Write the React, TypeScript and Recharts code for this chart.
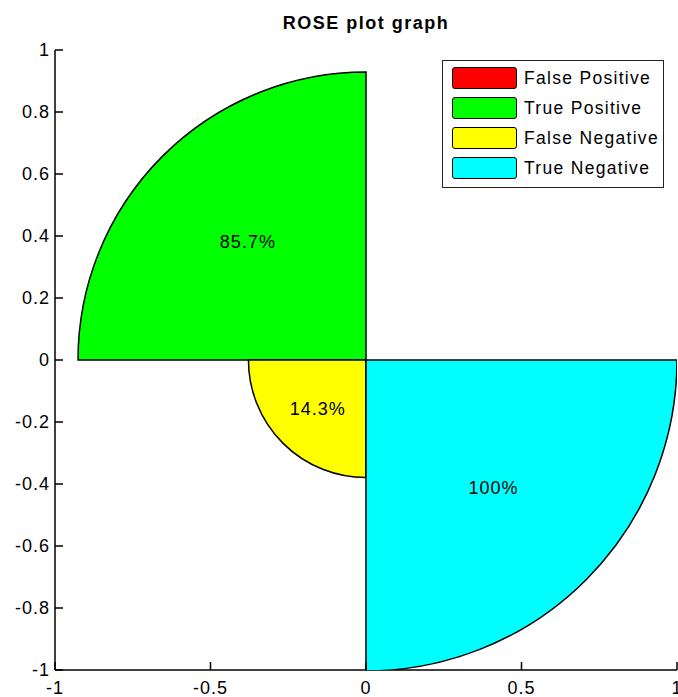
import React from 'react';
import { ScatterChart, Scatter, XAxis, YAxis, ZAxis, Sector, Legend } from 'recharts';

// ---- data ----
const categories = ['False Positive', 'True Positive', 'False Negative', 'True Negative'];
const percentValues = [0, 85.7, 14.3, 100];
const radii = [0, 0.926, 0.378, 1.0];
const startAngles = [0, 90, 180, 270];
const endAngles = [90, 180, 270, 360];
const colors = ['#ff0000', '#00ff00', '#ffff00', '#00ffff'];
const xTicks = [-1, -0.5, 0, 0.5, 1];
const yTicks = [-1, -0.8, -0.6, -0.4, -0.2, 0, 0.2, 0.4, 0.6, 0.8, 1];
const title = 'ROSE plot graph';

const FONT = '"Liberation Sans", Arial, Helvetica, sans-serif';
const PX_PER_UNIT = 311;

const series = categories.map((name, i) => ({
  name,
  color: colors[i],
  data: [
    {
      x: 0,
      y: 0,
      r: radii[i],
      area: radii[i] * radii[i],
      pct: percentValues[i],
      start: startAngles[i],
      end: endAngles[i],
      color: colors[i],
    },
  ],
}));

const Wedge = (props: any) => {
  const { cx, cy, payload, xAxis, width } = props;
  if (!payload || !(payload.r > 0)) return <g />;
  let pr = (width || 0) / 2;
  if (xAxis && typeof xAxis.scale === 'function') {
    const d = Math.abs(xAxis.scale(payload.r) - xAxis.scale(0));
    if (isFinite(d) && d > 0) pr = d;
  }
  const mid = (((payload.start + payload.end) / 2) * Math.PI) / 180;
  const lr = pr * 0.58;
  const lx = cx + lr * Math.cos(mid);
  const ly = cy - lr * Math.sin(mid);
  return (
    <g>
      <Sector
        cx={cx}
        cy={cy}
        innerRadius={0}
        outerRadius={pr}
        startAngle={payload.start}
        endAngle={payload.end}
        fill={payload.color}
        stroke="#000"
        strokeWidth={1.5}
      />
      <text
        x={lx}
        y={ly}
        dy="0.36em"
        textAnchor="middle"
        fontFamily={FONT}
        fontSize={18}
        letterSpacing={1}
        fill="#000"
      >
        {payload.pct + '%'}
      </text>
    </g>
  );
};

const fmt = (v: number) => String(v);

const YTick = (props: any) => {
  const { x, y, payload } = props;
  return (
    <g>
      <line x1={x + 5} y1={y} x2={x + 13} y2={y} stroke="#000" strokeWidth={1.5} />
      <text x={x} y={y} dy="0.36em" textAnchor="end" fontFamily={FONT} fontSize={18} letterSpacing={1} fill="#000">
        {fmt(payload.value)}
      </text>
    </g>
  );
};

const XTick = (props: any) => {
  const { x, y, payload } = props;
  return (
    <g>
      <line x1={x} y1={y - 11} x2={x} y2={y - 19} stroke="#000" strokeWidth={1.5} />
      <text x={x} y={y} dy="0.72em" textAnchor="middle" fontFamily={FONT} fontSize={18} letterSpacing={1} fill="#000">
        {fmt(payload.value)}
      </text>
    </g>
  );
};

const LegendBox = () => (
  <div
    style={{
      border: '1px solid #222',
      background: '#fff',
      width: 222,
      height: 128,
      boxSizing: 'border-box',
      padding: '2px 0 0 9px',
      fontFamily: FONT,
    }}
  >
    {categories.map((c, i) => (
      <div key={c} style={{ display: 'flex', alignItems: 'center', height: 30 }}>
        <div
          style={{
            width: 65,
            height: 22,
            boxSizing: 'border-box',
            background: colors[i],
            border: '1.5px solid #000',
            borderRadius: 3,
          }}
        />
        <span style={{ marginLeft: 7, fontSize: 17.5, letterSpacing: 1.3, color: '#000', lineHeight: '20px' }}>{c}</span>
      </div>
    ))}
  </div>
);

export default function App() {
  return (
    <div style={{ position: 'absolute', left: 0, top: 0, width: 678, height: 697, background: '#fff', overflow: 'hidden' }}>
      <ScatterChart width={678} height={697} margin={{ top: 50, right: 1, bottom: 0, left: 0 }}>
        <XAxis
          type="number"
          dataKey="x"
          domain={[-1, 1]}
          ticks={xTicks}
          interval={0}
          allowDataOverflow
          height={27}
          tickSize={0}
          tickMargin={11}
          tickLine={false}
          axisLine={{ stroke: '#000', strokeWidth: 1.5 }}
          tick={<XTick />}
        />
        <YAxis
          type="number"
          dataKey="y"
          domain={[-1, 1]}
          ticks={yTicks}
          interval={0}
          allowDataOverflow
          width={55}
          tickSize={0}
          tickMargin={5}
          tickLine={false}
          axisLine={{ stroke: '#000', strokeWidth: 1.5 }}
          tick={<YTick />}
        />
        <ZAxis type="number" dataKey="area" domain={[0, 1]} range={[0, Math.PI * PX_PER_UNIT * PX_PER_UNIT]} />
        {series.map((s) => (
          <Scatter key={s.name} name={s.name} data={s.data} fill={s.color} shape={<Wedge />} isAnimationActive={false} />
        ))}
        <Legend
          layout="vertical"
          align="center"
          verticalAlign="middle"
          content={<LegendBox />}
          wrapperStyle={{ left: 442, top: 60, width: 222, height: 128 }}
        />
      </ScatterChart>
      <div
        style={{
          position: 'absolute',
          left: 55,
          width: 622,
          top: 14,
          textAlign: 'center',
          fontFamily: FONT,
          fontWeight: 'bold',
          fontSize: 18,
          lineHeight: '18px',
          letterSpacing: 1.5,
          color: '#000',
        }}
      >
        {title}
      </div>
    </div>
  );
}
